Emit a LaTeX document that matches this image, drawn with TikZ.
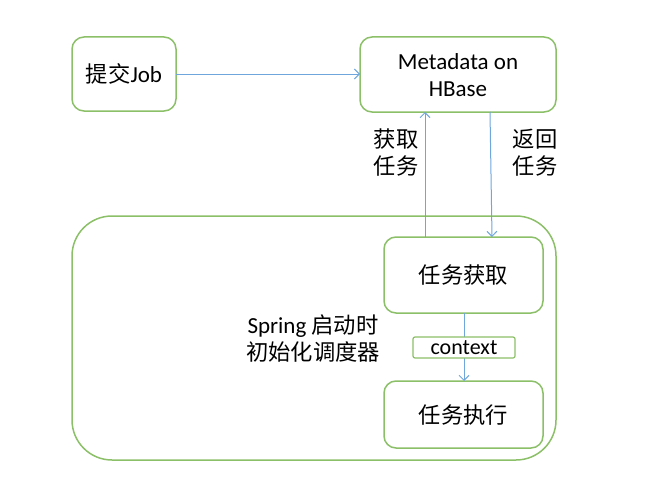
\documentclass[tikz,border=0pt]{standalone}
\usepackage{fontspec}
\setmainfont{Carlito}
\newfontfamily\cjk{Noto Sans CJK SC}[Scale=0.97]
\usetikzlibrary{arrows.meta}
\definecolor{bgreen}{HTML}{8CC068}
\definecolor{ablue}{HTML}{6FA6DC}
\begin{document}
\begin{tikzpicture}[x=1pt,y=-1pt,
  box/.style={draw=bgreen,line width=1.5pt,rounded corners=12pt,fill=white},
  arr/.style={draw=ablue,line width=1pt,-{Straight Barb[length=5pt,width=10pt]}},
  lbl/.style={font=\fontsize{23}{27}\selectfont,align=center,inner sep=0pt}]
\useasboundingbox (0,0) rectangle (655,495);
% outer container
\draw[box,rounded corners=40pt] (72,216) rectangle (556,460);
\coordinate (outerc) at (314,338);
% boxes
\draw[box] (72,37) rectangle (176,111);
\node[lbl] (job) at (124,74) {{\cjk 提交}Job};
\draw[box] (360,37) rectangle (556,112);
\node[lbl] (meta) at (458,75) {Metadata on\\HBase};
\draw[box] (384,237) rectangle (543,313);
\node[lbl] (fetch) at (463.5,275) {\cjk 任务获取};
\draw[box] (384,381) rectangle (543,448);
\node[lbl] (exec) at (463.5,415) {\cjk 任务执行};
% connectors
\coordinate (jobE) at (176,74);
\coordinate (metaW) at (360,74);
\draw[arr] (jobE) -- (metaW);
\coordinate (upS) at (425,237);
\coordinate (upE) at (425,112);
\draw[arr] (upS) -- (upE);
\coordinate (dnS) at (490,112);
\coordinate (dnE) at (492,237);
\draw[arr] (dnS) -- (dnE);
\coordinate (inS) at (464,313);
\coordinate (inE) at (464,381);
\draw[arr] (inS) -- (inE);
% context
\draw[box,line width=1.2pt,rounded corners=2pt] (413,337) rectangle (515,358);
\node[lbl,font=\fontsize{22}{24}\selectfont] (ctx) at (464,347.5) {context};
% labels
\node[lbl] (l1) at (396,153) {\cjk 获取\\\cjk 任务};
\node[lbl] (l2) at (535,153) {\cjk 返回\\\cjk 任务};
\node[lbl] (l3) at (313,339) {Spring {\cjk 启动时}\\{\cjk 初始化调度器}};
\end{tikzpicture}
\end{document}
